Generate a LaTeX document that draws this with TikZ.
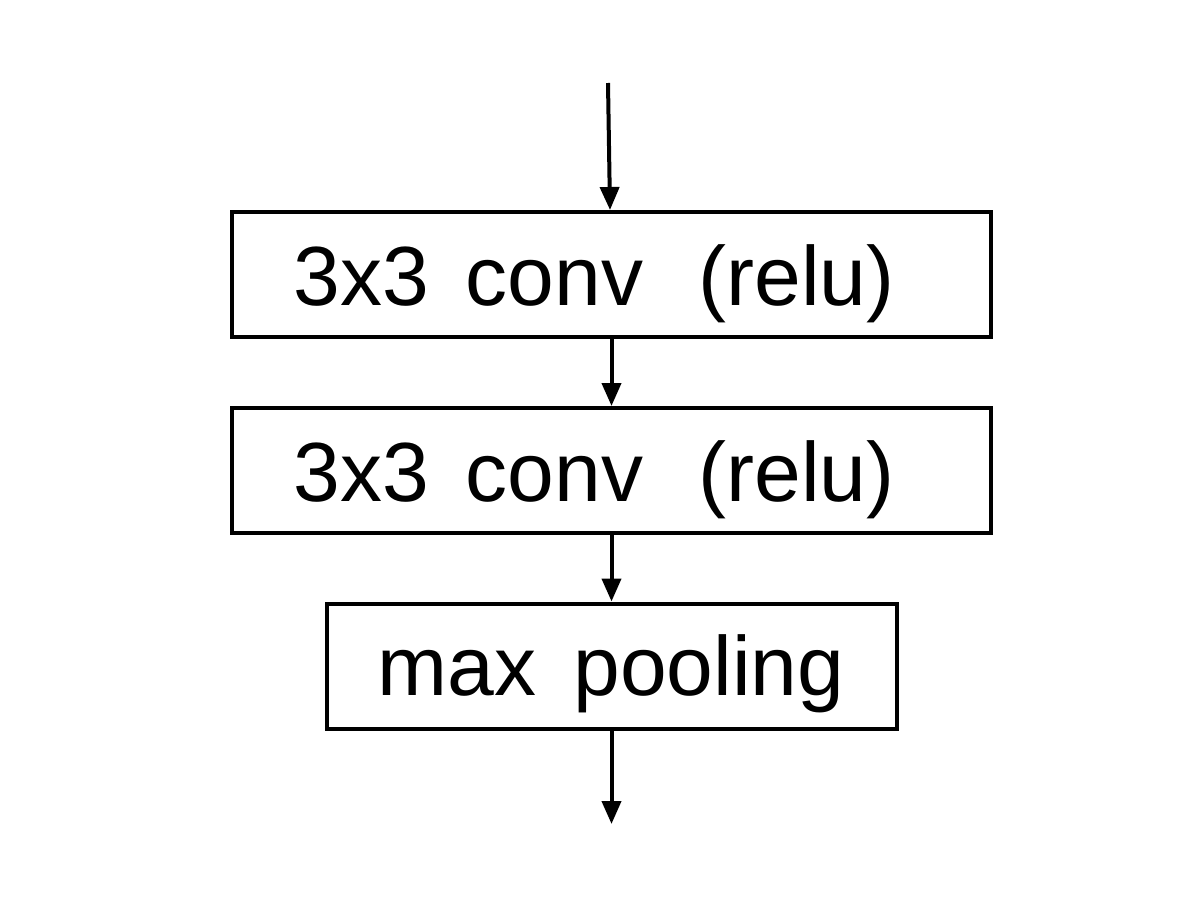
\documentclass[tikz,border=0pt]{standalone}
\usepackage{fontspec}
\setmainfont{Liberation Sans}
\usetikzlibrary{arrows.meta}
\begin{document}
\begin{tikzpicture}[x=1pt,y=-1pt,
  layerbox/.style={draw=black, line width=4pt, minimum height=125pt, inner sep=0pt},
  lbl/.style={anchor=base west, inner sep=0pt, font=\fontsize{84pt}{100pt}\selectfont},
  flow/.style={line width=4pt, -{Triangle[length=23pt,width=19pt]}}]
  \useasboundingbox (0,0) rectangle (1201,900);

  % layer boxes
  \node[layerbox, minimum width=759pt] (c1) at (611.5,274.5) {};
  \node[layerbox, minimum width=759pt] (c2) at (611.5,470.5) {};
  \node[layerbox, minimum width=570pt] (p1) at (612,666) {};

  % labels
  \node[lbl] (t1) at (293.4,305) {3x3\hspace{37pt}conv\hspace{55pt}(relu)};
  \node[lbl] (t2) at (293.4,501) {3x3\hspace{37pt}conv\hspace{55pt}(relu)};
  \node[lbl] (t3) at (377.5,695) {max\hspace{37pt}pooling};

  % input and output ends
  \coordinate (in) at (608,83);
  \coordinate (out) at (611.5,824);

  % connectors
  \draw[flow] (in) -- ([xshift=-1.5pt]c1.north);
  \draw[flow] (c1.south) -- (c2.north);
  \draw[flow] (c2.south) -- (c2.south |- p1.north);
  \draw[flow] (p1.south -| out) -- (out);
\end{tikzpicture}
\end{document}
